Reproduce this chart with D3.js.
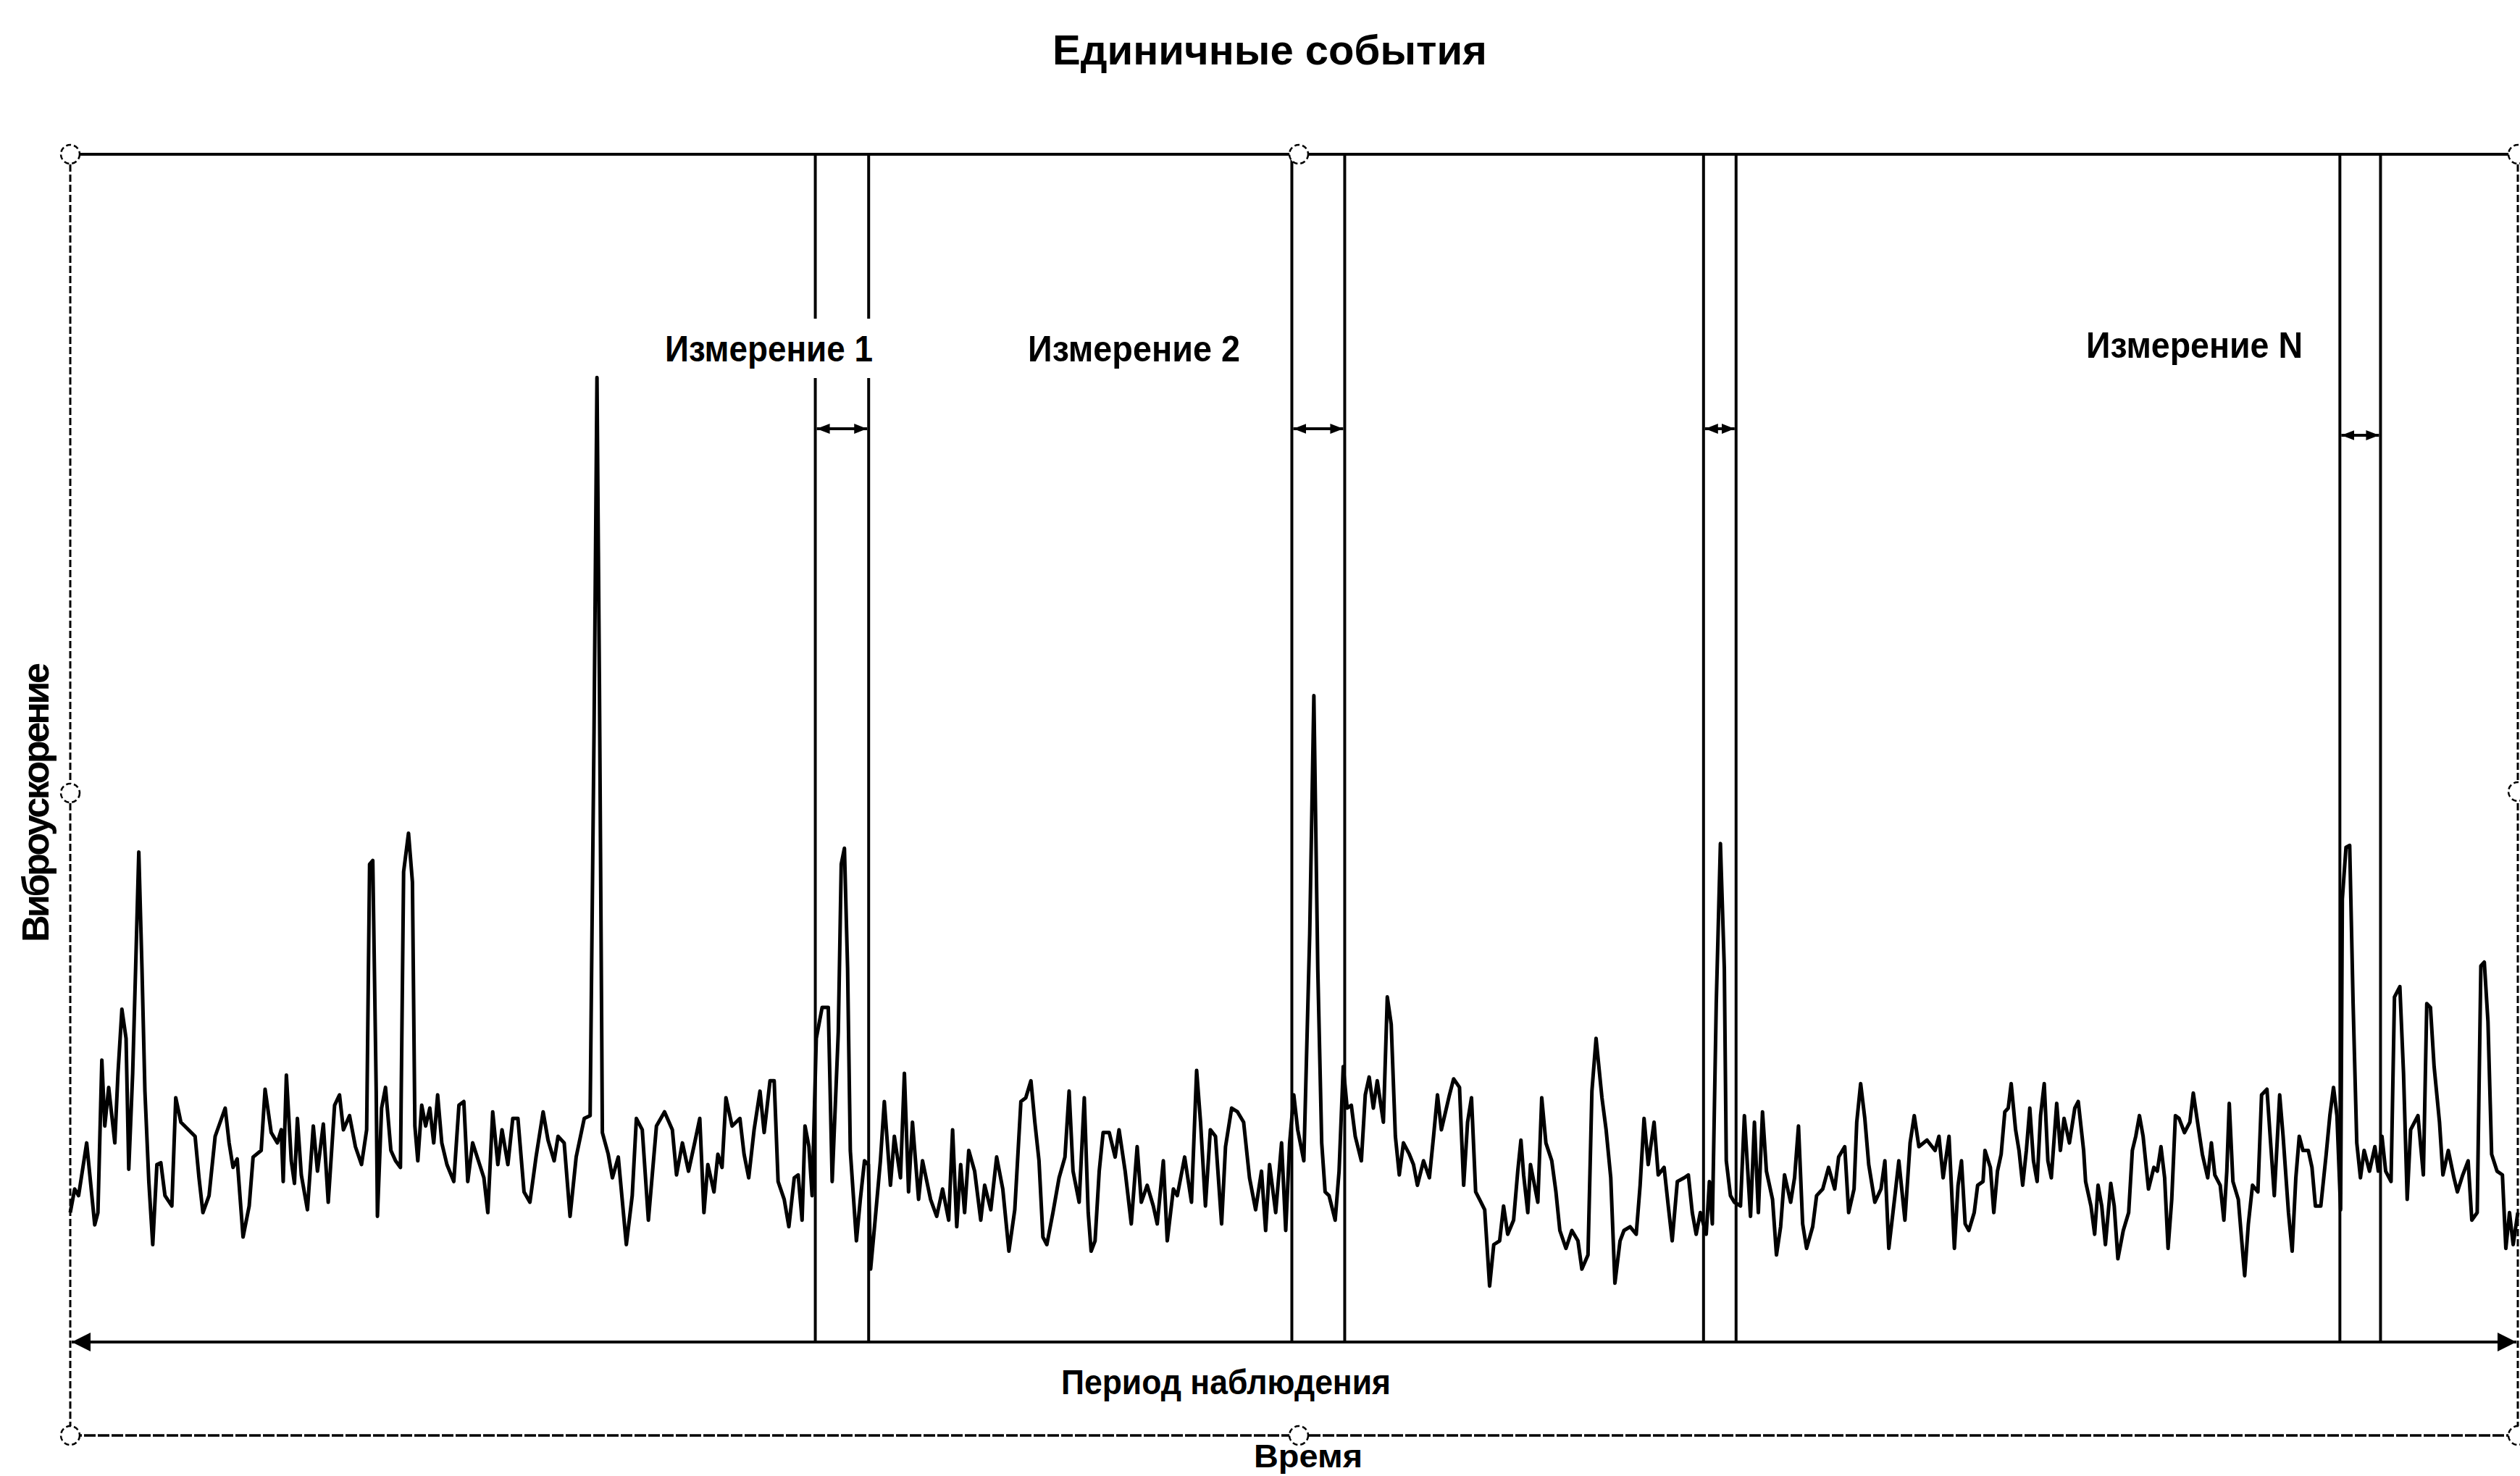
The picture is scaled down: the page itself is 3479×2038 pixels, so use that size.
<!DOCTYPE html>
<html>
<head>
<meta charset="utf-8">
<script src="https://d3js.org/d3.v7.min.js"></script>
<style>
  body { margin: 0; background: white; }
  text { font-family: "Liberation Sans", Arial, sans-serif; font-weight: bold; fill: black; }
</style>
</head>
<body>
<svg id="chart" width="3479" height="2038"></svg>

<script>

// signal: [time, vibration acceleration] (arbitrary units)
var signal = [
  [0,8.9],[1.8,11.4],[3.4,10.7],[6.7,16.3],[10,7.6],[11.3,8.9],[12.9,25.1],[14.1,18.1],[15.7,22.2],[18.2,16.3],
  [19.5,23.7],[21.1,30.5],[22.8,27.4],[23.9,13.5],[25.5,23.7],[26.7,34.8],[28,47.2],[29.3,34.8],[30.5,21.8],[32.1,12.2],
  [33.7,5.5],[35.4,14],[37,14.2],[38.7,10.7],[41.5,9.6],[43.1,21.1],[45.2,18.5],[51,17],[52.6,12.6],[54.2,8.9],
  [56.7,10.7],[59.2,17],[63.3,20],[64.9,16.3],[66.5,13.7],[68.2,14.6],[70.6,6.3],[73.1,9.6],[74.7,14.8],[78,15.5],
  [79.6,22],[82.1,17.4],[84.6,16.3],[86.2,17.7],[87,12.2],[88.3,23.5],[90.3,14.4],[91.6,12],[92.8,18.9],[94.4,12.9],
  [96.9,9.2],[99.3,18.1],[101,13.3],[103.4,18.3],[105.4,10],[108,20.3],[110,21.4],[111.6,17.7],[114.1,19.2],[116.5,15.9],
  [119,14],[121.1,17.7],[122.3,45.9],[123.6,46.3],[125,21.8],[125.5,8.5],[127.2,20],[128.8,22.2],[131,15.5],[132.9,14.4],
  [134.9,13.7],[136.2,45.1],[138.2,49.2],[139.8,44],[140.8,18.1],[142,14.4],[143.6,20.3],[145.2,18.1],[146.9,20],[148.5,16.3],
  [150.1,21.4],[151.8,16.3],[153.9,14],[156.7,12.2],[158.8,20.3],[160.8,20.7],[162.4,12.2],[164.4,16.3],[169,12.6],[170.6,8.9],
  [172.6,19.6],[174.7,14],[176.4,17.7],[178.8,14],[180.8,18.9],[182.9,18.9],[185.4,11.1],[187.8,10],[190.3,14.8],[193.2,19.6],
  [195.2,16.6],[197.7,14.4],[199.3,17],[201.8,16.3],[204.2,8.5],[206.7,14.8],[210,18.9],[212.4,19.2],[214,60],[215.2,97.6],
  [216.2,65],[217.4,17.4],[219.8,15.1],[221.5,12.6],[223.9,14.8],[227.2,5.5],[229.6,10.7],[231.3,18.9],[233.7,17.7],[236.2,8.1],
  [239.5,18.1],[242.8,19.6],[246,17.7],[247.7,12.9],[250.1,16.3],[252.6,13.3],[255.1,16.3],
  [257.2,18.9],[258.9,8.9],[260.5,14],[263,11.1],[264.6,15.1],[266.3,13.7],[267.9,21.1],[270.4,18.1],[272,18.5],[273.6,18.9],
  [275.3,15.1],[277.2,12.6],[279.4,17.7],[281.8,21.8],[283.5,17.4],[285.9,22.9],[287.6,22.9],[289.2,12.2],[291.7,10.3],[293.6,7.4],
  [295.8,12.6],[297.4,12.9],[299,8.1],[300.2,18.1],[301.8,15.9],[303.1,10.7],[304.8,27.4],[307.2,30.7],[309.7,30.7],[311.3,12.2],
  [313.8,28.1],[315,45.9],[316.3,47.6],[317.6,34.8],[318.7,15.5],[321.2,5.9],[322.8,10.3],[324.5,14.4],[326.1,14],[327,2.9],
  [328.6,7.4],[331,14.4],[332.6,20.7],[335.1,11.8],[336.7,17],[339.2,12.6],[340.8,23.7],[342.5,11.1],[344.1,18.5],[346.6,10.3],
  [348.2,14.4],[351.5,10.3],[354,8.5],[356.4,11.4],[358.9,8.1],[360.5,17.7],[362.2,7.4],[363.8,14],[365.4,8.9],[367.1,15.5],
  [369.5,13.3],[372,8.1],[373.6,11.8],[376.1,9.2],[378.5,14.8],[381,11.4],[383.5,4.8],[385.9,9.2],[388.4,20.7],[390.4,21.1],
  [392.5,22.9],[394.1,18.5],[395.8,14.4],[397.4,6.3],[399,5.5],[401.5,8.9],[404,12.6],[406.4,14.8],[408.1,21.8],[409.7,13.3],
  [412.2,10],[414.3,21.1],[415.9,8.9],[417.1,4.8],[418.7,5.9],[420.4,13.3],[422,17.4],[424.5,17.4],[426.9,14.8],[428.5,17.7],
  [431,13.3],[433.5,7.7],[435.9,15.9],[437.6,10],[440,11.8],[442.5,9.6],[444.1,7.7],[446.6,14.4],[448.2,5.9],[450.7,11.4],
  [452.3,10.7],[455.3,14.8],[458.1,10],[460.2,24],[461.8,18.5],[463.8,9.6],[465.8,17.7],[467.9,17],[470.4,7.7],[472,15.9],
  [474.5,20],[476.9,19.6],[479.4,18.5],[481.8,12.6],[484.3,9.2],[486.7,13.3],[488.4,7],[490,14],[492.5,8.9],[494.9,16.3],
  [496.6,7],[498.2,16.3],[499.9,21.4],[501.5,17.7],[504,14.4],[506.4,38.5],[508.1,63.8],[509.7,34.8],[511.3,16.3],[512.7,11.1],
  [514.3,10.7],[516.8,8.1],[518.4,13.3],[520.1,24.4],[521.7,20],[523.4,20.3],[525,17],[527.5,14.4],[529.1,21.4],[530.7,23.3],
  [532.4,20],[534,22.9],[536.5,18.5],[538.1,31.8],[539.7,28.9],[541.4,17],[543,12.9],[544.7,16.3],[547.1,15.1],[548.8,14],
  [550.4,11.8],[552.9,14.4],[555.3,12.6],[557,17],[558.6,21.4],[560.2,17.7],[563.5,21.4],[565.2,23.1],[567.6,22.2],[569.3,11.8],
  [570.9,18.5],[572.5,21.1],[574.2,11.1],[575.8,10.3],[577.9,9.2],[579.9,1.1],[581.6,5.5],[584,5.9],[585.6,9.6],[587.3,6.6],
  [589.7,8.1],[591.4,13.3],[592.7,16.6],[593.8,12.9],[595.5,8.9],[596.6,14],[599.6,10],[601.2,21.1],[602.9,16.3],[605.3,14.4],
  [607,11.1],[608.6,7],[611.1,5.1],[613.5,7],[616,5.9],[617.6,2.9],[620.1,4.4],[621.7,21.8],[623.4,27.4],[625.8,21.1],
  [627.5,17.7],[629.4,12.6],[631.1,1.4],[633.2,5.9],[634.8,7],[637.3,7.4],[639.8,6.6],[641.4,11.8],[643,18.9],[644.7,14],
  [647.1,18.5],[648.8,12.9],[651.2,13.7],[652.9,9.6],[654.5,5.9],[656.6,12.2],[659.4,12.6],[661.1,12.9],[662.7,8.9],[664.3,6.6],
  [666,8.9],[668.4,6.6],[669.7,12.2],[670.9,7.7],[672.5,31.1],[674.2,48.1],[675.8,34.8],[676.6,14.4],[678.3,10.7],[679.9,10],
  [682.4,9.6],[684,19.2],[686.5,8.5],[688.1,18.5],[689.7,8.9],[691.4,19.6],[693,13.3],[695.5,10.3],[697.1,4.4],[698.8,7.4],
  [700.4,12.9],[702.9,10],[704.5,12.6],[706.1,18.1],[707.8,7.7],[709.4,5.1],[711.9,7.4],[713.5,10.7],[716,11.4],[718.4,13.7],
  [720.9,11.4],[722.5,14.8],[725,15.9],[726.6,8.9],[728.8,11.4],[729.9,18.5],[731.5,22.6],[733.2,18.9],[734.8,14],[737.3,10],
  [739.8,11.4],[741.4,14.4],[743,5.1],[745.5,10.7],[747.1,14.4],[749.6,8.1],[751.7,16.3],[753.4,19.2],[755.3,15.9],[758.6,16.6],
  [761.9,15.5],[763.5,17],[765.2,12.6],[767.6,17],[769.8,5.1],
  [771.3,11.8],[772.7,14.4],[774.2,7.7],[775.7,7],[777.9,8.9],[779.3,11.8],[781.5,12.2],[782.3,15.5],[784.5,13.7],[785.9,8.9],
  [787.4,13.3],[788.9,15.1],[790.4,19.6],[791.8,20],[793,22.6],[794.8,17.7],[796.2,15.5],[797.7,11.8],[799.2,15.5],[800.6,20],
  [802.1,14.4],[803.6,12.2],[805,19.2],[806.5,22.6],[808,14.4],[809.4,12.6],[811.6,20.5],[813.1,15.5],[814.6,18.9],[816.8,16.3],
  [819,20],[820.4,20.7],[822.6,15.5],[823.4,12.2],[825.6,9.6],[827.1,6.6],[828.5,11.8],[830,9.6],[831.5,5.5],[833.7,12],
  [835.1,9.6],[836.6,4],[838.8,7],[841,8.9],[842.5,15.5],[843.9,17],[845.4,19.2],[846.9,17],[849.1,11.4],[851.3,13.7],
  [852.7,13.3],[854.2,15.9],[855.7,12.6],[857.1,5.1],[858.6,10.3],[860.1,19.2],[861.6,18.9],[863.8,17.4],[866,18.5],[867.4,21.6],
  [869.6,17.7],[871.1,15.1],[873.3,12.6],[874.8,16.3],[876.2,12.9],[878.4,11.8],[879.9,8.1],[881.1,13.3],[882.1,20.5],[883.6,12.2],
  [885.8,10.3],[887.2,5.9],[888.4,2.2],[889.9,7.7],[891.6,11.8],[893.8,11.1],[895.3,21.4],[897.5,22],[899,16.3],[900.5,10.7],
  [902.7,21.4],[904.1,17],[906.3,8.9],[907.8,4.8],[909.3,12.6],[910.7,17],[912.2,15.5],[914.4,15.5],[915.9,13.7],[917.3,9.6],
  [919.5,9.6],[921.7,15.1],[923.2,19.2],[924.7,22.2],[926.1,19.2],[927.6,9.2],[928.3,42.2],[929.8,47.7],[931.3,47.9],[932.7,31.1],
  [934.2,16.3],[935.7,12.6],[937.2,15.5],[939.4,13.3],[941.6,15.9],[943,13.3],[944.5,17],[946,13.3],[948.2,12.2],[949.6,31.8],
  [951.8,32.9],[953.3,23.7],[954.8,10.3],[956.2,17.7],[959.2,19.2],[961.4,12.9],[962.8,31.1],[964.3,30.7],[965.8,24.4],[968,18.5],
  [969.4,12.9],[971.6,15.5],[973.9,12.6],[975.3,11.1],[977.5,12.9],[979.7,14.4],[981.2,8.1],[983.4,8.9],[984.9,35.1],[986.3,35.5],
  [987.8,29.2],[989.3,15.1],[991.5,13.3],[993.7,12.9],[995.1,5.1],[996.6,8.9],[998.1,5.5],[1000,8.9]
];

// measurement windows [start, end] in time units
var windows = [[304.4, 326.2], [499.1, 520.7], [667.3, 680.6], [927.3, 943.9]];

// labels
var titleText = 'Единичные события';
var measureLabels = ['Измерение  1', 'Измерение  2', 'Измерение  N'];
var periodText = 'Период  наблюдения';
var xLabel = 'Время';
var yLabel = 'Виброускорение';

// frame geometry (layout only)
var frameL = 97, frameR = 3476, frameT = 213, frameB = 1982, periodY = 1853;

var x = d3.scaleLinear().domain([0, 1000]).range([frameL, frameR]);
var y = d3.scaleLinear().domain([0, 100]).range([1790, 490]);

var svg = d3.select('#chart');

svg.append('rect').attr('width', 3479).attr('height', 2038).attr('fill', 'white');

// arrow markers
var defs = svg.append('defs');
defs.append('marker')
  .attr('id', 'bigArrow')
  .attr('viewBox', '0 0 26 26')
  .attr('refX', 26).attr('refY', 13)
  .attr('markerWidth', 26).attr('markerHeight', 26)
  .attr('markerUnits', 'userSpaceOnUse')
  .attr('orient', 'auto-start-reverse')
  .append('path').attr('d', 'M0,0 L26,13 L0,26 Z').attr('fill', 'black');
defs.append('marker')
  .attr('id', 'smallArrow')
  .attr('viewBox', '0 0 18 16')
  .attr('refX', 18).attr('refY', 8)
  .attr('markerWidth', 18).attr('markerHeight', 16)
  .attr('markerUnits', 'userSpaceOnUse')
  .attr('orient', 'auto-start-reverse')
  .append('path').attr('d', 'M0,1 L18,8 L0,15 Z').attr('fill', 'black');

// outer frame (rough dashed border of the scanned figure)
svg.append('line')
  .attr('x1', frameL).attr('y1', frameT).attr('x2', frameR).attr('y2', frameT)
  .attr('stroke', 'black').attr('stroke-width', 4);
svg.append('line')
  .attr('x1', frameL).attr('y1', frameB).attr('x2', frameR).attr('y2', frameB)
  .attr('stroke', 'black').attr('stroke-width', 3.5).attr('stroke-dasharray', '16 3');
svg.append('line')
  .attr('x1', frameL).attr('y1', frameT).attr('x2', frameL).attr('y2', frameB)
  .attr('stroke', 'black').attr('stroke-width', 3).attr('stroke-dasharray', '10 4');
svg.append('line')
  .attr('x1', frameR).attr('y1', frameT).attr('x2', frameR).attr('y2', frameB)
  .attr('stroke', 'black').attr('stroke-width', 3).attr('stroke-dasharray', '10 4');

// measurement window lines
windows.forEach(function(w) {
  [w[0], w[1]].forEach(function(t) {
    svg.append('line')
      .attr('x1', x(t)).attr('y1', frameT)
      .attr('x2', x(t)).attr('y2', periodY)
      .attr('stroke', 'black').attr('stroke-width', 4);
  });
});

// small arrows inside each window
svg.selectAll('.warrow')
  .data(windows)
  .enter()
  .append('line')
  .attr('class', 'warrow')
  .attr('x1', function(d) { return x(d[0]) + 2; })
  .attr('x2', function(d) { return x(d[1]) - 2; })
  .attr('y1', function(d, i) { return i == 3 ? 601 : 592; })
  .attr('y2', function(d, i) { return i == 3 ? 601 : 592; })
  .attr('stroke', 'black').attr('stroke-width', 4)
  .attr('marker-start', 'url(#smallArrow)')
  .attr('marker-end', 'url(#smallArrow)');

// the signal
var line = d3.line()
  .x(function(d) { return x(d[0]); })
  .y(function(d) { return y(d[1]); });

svg.append('path')
  .datum(signal)
  .attr('d', line)
  .attr('fill', 'none')
  .attr('stroke', 'black')
  .attr('stroke-width', 5)
  .attr('stroke-linejoin', 'round');

// observation period arrow
svg.append('line')
  .attr('x1', frameL + 2).attr('y1', periodY)
  .attr('x2', frameR - 2).attr('y2', periodY)
  .attr('stroke', 'black').attr('stroke-width', 4)
  .attr('marker-start', 'url(#bigArrow)')
  .attr('marker-end', 'url(#bigArrow)');

// measurement labels (white box behind, lines break under them)
var labelPos = [[918, 287], [1419, 293], [2880, 299]];
measureLabels.forEach(function(s, i) {
  var p = labelPos[i];
  svg.append('rect')
    .attr('x', p[0] - 8).attr('y', 440)
    .attr('width', p[1] + 16).attr('height', 82)
    .attr('fill', 'white');
  svg.append('text')
    .attr('x', p[0]).attr('y', i == 2 ? 494 : 499)
    .attr('textLength', p[1]).attr('lengthAdjust', 'spacingAndGlyphs')
    .style('font-size', '50px')
    .text(s);
});

// selection handles on the frame
var handles = [[frameL, frameT], [1793, frameT], [frameR, frameT], [frameL, 1095], [frameR, 1093],
               [frameL, frameB], [1793, frameB], [frameR, frameB]];
svg.selectAll('.handle')
  .data(handles)
  .enter()
  .append('circle')
  .attr('class', 'handle')
  .attr('cx', function(d) { return d[0]; })
  .attr('cy', function(d) { return d[1]; })
  .attr('r', 13)
  .attr('fill', 'white')
  .attr('stroke', 'black')
  .attr('stroke-width', 2.5)
  .attr('stroke-dasharray', '7 4');

// title and axis texts
svg.append('text')
  .attr('x', 1453).attr('y', 89)
  .attr('textLength', 600).attr('lengthAdjust', 'spacingAndGlyphs')
  .style('font-size', '58px')
  .text(titleText);

svg.append('text')
  .attr('x', 1465).attr('y', 1925)
  .attr('textLength', 455).attr('lengthAdjust', 'spacingAndGlyphs')
  .style('font-size', '48px')
  .text(periodText);

svg.append('text')
  .attr('x', 1731).attr('y', 2026)
  .attr('textLength', 150).attr('lengthAdjust', 'spacingAndGlyphs')
  .style('font-size', '44px')
  .text(xLabel);

svg.append('text')
  .attr('transform', 'translate(67,1301) rotate(-90)')
  .attr('x', 0).attr('y', 0)
  .attr('textLength', 386).attr('lengthAdjust', 'spacing')
  .style('font-size', '52px')
  .text(yLabel);

</script>
</body>
</html>
